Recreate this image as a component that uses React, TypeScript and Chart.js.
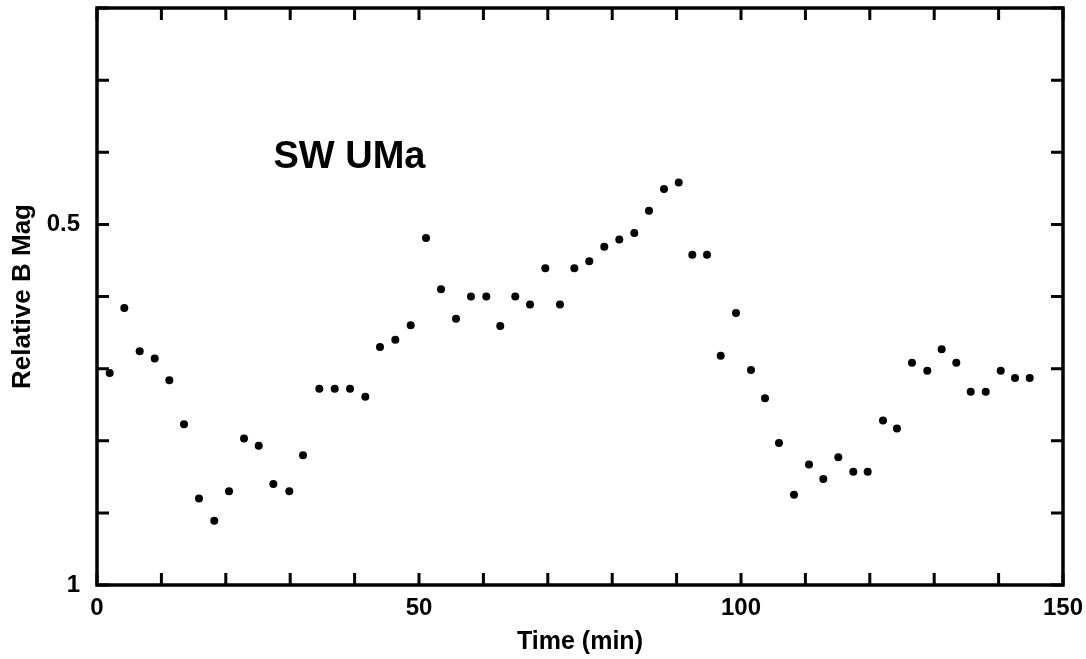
import React, { useEffect, useRef } from 'react';
import { Chart, registerables } from 'chart.js';

Chart.register(...registerables);

// Time (min) of each observation
const times = [
  1.97, 4.24, 6.63, 8.96, 11.23, 13.51, 15.84, 18.21, 20.5, 22.83,
  25.11, 27.38, 29.86, 31.99, 34.52, 36.91, 39.29, 41.66, 43.94, 46.32,
  48.71, 51.09, 53.42, 55.75, 58.07, 60.45, 62.62, 64.95, 67.24, 69.61,
  71.89, 74.12, 76.44, 78.77, 81.1, 83.43, 85.71, 88.04, 90.33, 92.44,
  94.72, 96.85, 99.22, 101.55, 103.73, 105.9, 108.23, 110.56, 112.78, 115.11,
  117.44, 119.67, 122.05, 124.22, 126.55, 128.93, 131.16, 133.43, 135.67, 138.0,
  140.33, 142.55, 144.83,
];

// Relative B magnitude
const mags = [
  0.706, 0.616, 0.676, 0.686, 0.716, 0.777, 0.88, 0.911, 0.87, 0.797,
  0.807, 0.86, 0.87, 0.82, 0.728, 0.728, 0.728, 0.739, 0.67, 0.66,
  0.64, 0.519, 0.59, 0.631, 0.6, 0.6, 0.641, 0.6, 0.611, 0.561,
  0.611, 0.561, 0.551, 0.531, 0.521, 0.512, 0.481, 0.451, 0.442, 0.542,
  0.542, 0.682, 0.623, 0.702, 0.741, 0.803, 0.875, 0.833, 0.853, 0.823,
  0.843, 0.843, 0.772, 0.783, 0.692, 0.703, 0.673, 0.692, 0.732, 0.732,
  0.703, 0.713, 0.713,
];

const xLabelValues = [0, 50, 100, 150];
const yLabelValues = [0.5, 1];
const yLabelTexts = ['0.5', '1'];
const starName = 'SW UMa';
const xTitle = 'Time (min)';
const yTitle = 'Relative B Mag';

const FONT = '"Liberation Sans", Arial, Helvetica, sans-serif';

const frameTicksPlugin = {
  id: 'frameTicks',
  afterDraw(chart: any, _args: any, opts: any) {
    const { ctx, chartArea } = chart;
    const xs = chart.scales.x;
    const ys = chart.scales.y;
    const { left, right, top, bottom } = chartArea;
    const len = opts.tickLen;
    ctx.save();
    ctx.strokeStyle = '#000';
    ctx.lineCap = 'butt';
    ctx.lineWidth = opts.tickWidth;
    ctx.beginPath();
    for (const t of xs.ticks) {
      const px = xs.getPixelForValue(t.value);
      ctx.moveTo(px, bottom);
      ctx.lineTo(px, bottom - len);
      ctx.moveTo(px, top);
      ctx.lineTo(px, top + len);
    }
    for (const t of ys.ticks) {
      const py = ys.getPixelForValue(t.value);
      ctx.moveTo(left, py);
      ctx.lineTo(left + len, py);
      ctx.moveTo(right, py);
      ctx.lineTo(right - len, py);
    }
    ctx.stroke();
    ctx.lineWidth = opts.frameWidth;
    ctx.lineJoin = 'miter';
    ctx.strokeRect(left, top, right - left, bottom - top);

    ctx.fillStyle = '#000';
    ctx.font = `bold ${opts.labelSize}px ${FONT}`;
    ctx.textAlign = 'left';
    ctx.textBaseline = 'alphabetic';
    ctx.fillText(opts.label, xs.getPixelForValue(opts.labelX), ys.getPixelForValue(opts.labelY));
    ctx.restore();
  },
};

export default function App() {
  const canvasRef = useRef<HTMLCanvasElement | null>(null);

  useEffect(() => {
    const canvas = canvasRef.current;
    if (!canvas) return;
    const data = times.map((t, i) => ({ x: t, y: mags[i] }));
    const chart = new Chart(canvas, {
      type: 'scatter',
      data: {
        datasets: [
          {
            data,
            pointRadius: 4,
            pointBackgroundColor: '#000',
            pointBorderWidth: 0,
            borderColor: '#000',
          },
        ],
      },
      options: {
        animation: false,
        responsive: false,
        maintainAspectRatio: false,
        layout: { padding: { top: 8, right: 23, left: 0, bottom: 0 } },
        plugins: {
          legend: { display: false },
          tooltip: { enabled: false },
          frameTicks: {
            tickLen: 12,
            tickWidth: 3,
            frameWidth: 3.5,
            label: starName,
            labelX: 27.4,
            labelY: 0.422,
            labelSize: 38,
          },
        } as any,
        scales: {
          x: {
            type: 'linear',
            position: 'bottom',
            min: 0,
            max: 150,
            grid: { display: false, drawTicks: false },
            border: { display: false },
            ticks: {
              stepSize: 10,
              autoSkip: false,
              maxRotation: 0,
              padding: 9,
              color: '#000',
              font: { family: FONT, size: 24, weight: 'bold' },
              callback: (v: any) => (xLabelValues.includes(Number(v)) ? String(v) : ''),
            },
            title: {
              display: true,
              text: xTitle,
              color: '#000',
              font: { family: FONT, size: 25, weight: 'bold' },
              padding: { top: 0, bottom: 2 },
            },
            afterFit: (s: any) => {
              s.height = 74;
              s.paddingLeft = 0;
              s.paddingRight = 0;
            },
          },
          y: {
            type: 'linear',
            min: 0.2,
            max: 1,
            reverse: true,
            grid: { display: false, drawTicks: false },
            border: { display: false },
            ticks: {
              stepSize: 0.1,
              autoSkip: false,
              padding: 17,
              color: '#000',
              font: { family: FONT, size: 24, weight: 'bold' },
              callback: (v: any) => {
                const i = yLabelValues.findIndex((l) => Math.abs(l - Number(v)) < 1e-6);
                return i >= 0 ? yLabelTexts[i] : '';
              },
            },
            title: {
              display: true,
              text: yTitle,
              color: '#000',
              font: { family: FONT, size: 26, weight: 'bold' },
              padding: { top: 7, bottom: 0 },
            },
            afterFit: (s: any) => {
              s.width = 97;
              s.paddingTop = 0;
              s.paddingBottom = 0;
            },
          },
        },
      } as any,
      plugins: [frameTicksPlugin],
    });
    return () => chart.destroy();
  }, []);

  return (
    <div style={{ position: 'fixed', left: 0, top: 0, width: 1086, height: 659, background: '#fff' }}>
      <canvas ref={canvasRef} width={1086} height={659} style={{ display: 'block' }} />
    </div>
  );
}
